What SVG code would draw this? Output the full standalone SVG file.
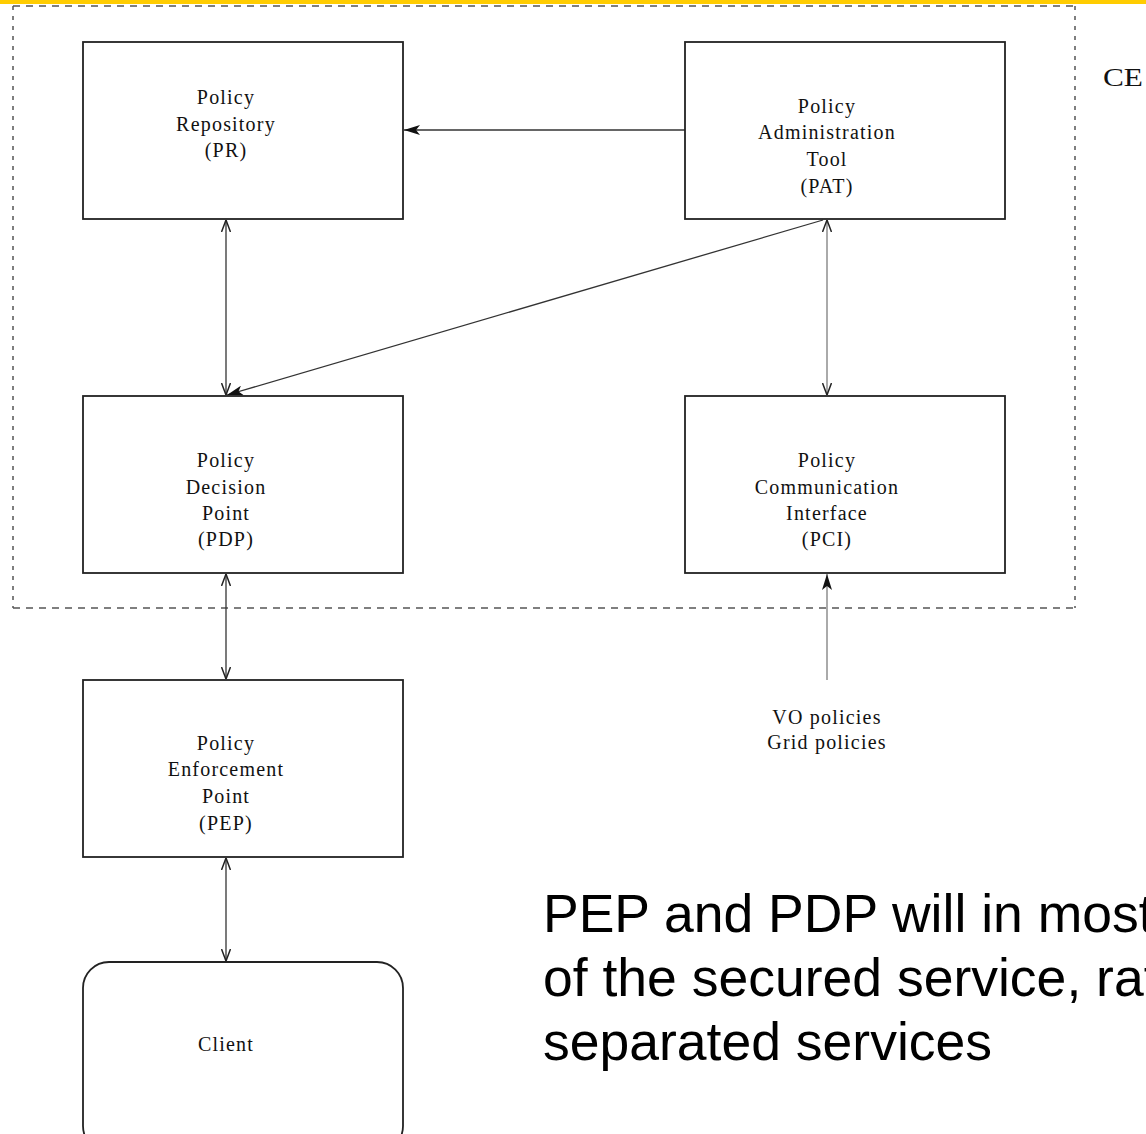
<svg xmlns="http://www.w3.org/2000/svg" width="1146" height="1134" viewBox="0 0 1146 1134">
  <style>
    .box { fill: #fff; stroke: #222; stroke-width: 1.8; }
    .lbl { font-family: "Liberation Serif", "Times New Roman", serif; font-size: 20px; fill: #111; text-anchor: middle; letter-spacing: 1.2px; }
    .link { stroke: #333; stroke-width: 1.3; fill: none; }
    .link-light { stroke: #aaa; stroke-width: 2; fill: none; }
    .frame { stroke: #555; stroke-width: 1.5; fill: none; }
    .note { font-family: "Liberation Sans", Arial, sans-serif; font-size: 53.5px; fill: #000; }
  </style>
  <defs>
    <marker id="solid" viewBox="0 0 16 10" refX="16" refY="5" markerWidth="16" markerHeight="10" markerUnits="userSpaceOnUse" orient="auto-start-reverse">
      <path d="M0,0 L16,5 L0,10 L4,5 Z" fill="#111"/>
    </marker>
    <marker id="open" viewBox="0 0 12 10" refX="12" refY="5" markerWidth="12" markerHeight="10" markerUnits="userSpaceOnUse" orient="auto-start-reverse">
      <path d="M0,0.5 L12,5 L0,9.5" fill="none" stroke="#222" stroke-width="1.5"/>
    </marker>
  </defs>

  <rect width="1146" height="1134" fill="#fff"/>
  <!-- top accent bar -->
  <rect x="0" y="0" width="1146" height="4" fill="#ffcc00"/>

  <!-- CE boundary -->
  <g id="ce-boundary">
    <path class="frame" d="M13,6 H1075 M13,608 H1075" stroke-dasharray="7,6"/>
    <path class="frame" d="M13,6 V608 M1075,6 V608" stroke-dasharray="4,6"/>
    <text x="1103" y="86" font-family="Liberation Serif, serif" font-size="25" fill="#111" textLength="40" lengthAdjust="spacingAndGlyphs">CE</text>
  </g>

  <!-- connectors -->
  <g id="connectors">
    <line class="link" x1="685" y1="130" x2="404" y2="130" marker-end="url(#solid)"/>
    <line class="link" x1="226" y1="220" x2="226" y2="395" marker-start="url(#open)" marker-end="url(#open)"/>
    <line class="link" x1="823" y1="220" x2="227" y2="395" marker-end="url(#solid)"/>
    <line class="link-light" x1="827" y1="220" x2="827" y2="395" marker-start="url(#open)" marker-end="url(#open)"/>
    <line class="link" x1="226" y1="574" x2="226" y2="679" marker-start="url(#open)" marker-end="url(#open)"/>
    <line class="link" x1="226" y1="858" x2="226" y2="961" marker-start="url(#open)" marker-end="url(#open)"/>
    <line class="link-light" x1="827" y1="680" x2="827" y2="574" marker-end="url(#solid)"/>
  </g>

  <g id="pr">
    <rect class="box" x="83" y="42" width="320" height="177"/>
    <text class="lbl" x="226" y="104">Policy</text>
    <text class="lbl" x="226" y="131">Repository</text>
    <text class="lbl" x="226" y="157">(PR)</text>
  </g>

  <g id="pat">
    <rect class="box" x="685" y="42" width="320" height="177"/>
    <text class="lbl" x="827" y="113">Policy</text>
    <text class="lbl" x="827" y="139">Administration</text>
    <text class="lbl" x="827" y="166">Tool</text>
    <text class="lbl" x="827" y="193">(PAT)</text>
  </g>

  <g id="pdp">
    <rect class="box" x="83" y="396" width="320" height="177"/>
    <text class="lbl" x="226" y="467">Policy</text>
    <text class="lbl" x="226" y="494">Decision</text>
    <text class="lbl" x="226" y="520">Point</text>
    <text class="lbl" x="226" y="546">(PDP)</text>
  </g>

  <g id="pci">
    <rect class="box" x="685" y="396" width="320" height="177"/>
    <text class="lbl" x="827" y="467">Policy</text>
    <text class="lbl" x="827" y="494">Communication</text>
    <text class="lbl" x="827" y="520">Interface</text>
    <text class="lbl" x="827" y="546">(PCI)</text>
  </g>

  <g id="pep">
    <rect class="box" x="83" y="680" width="320" height="177"/>
    <text class="lbl" x="226" y="750">Policy</text>
    <text class="lbl" x="226" y="776">Enforcement</text>
    <text class="lbl" x="226" y="803">Point</text>
    <text class="lbl" x="226" y="830">(PEP)</text>
  </g>

  <g id="client">
    <rect class="box" x="83" y="962" width="320" height="190" rx="26" ry="26"/>
    <text class="lbl" x="226" y="1051">Client</text>
  </g>

  <g id="policy-sources">
    <text class="lbl" x="827" y="724">VO policies</text>
    <text class="lbl" x="827" y="749">Grid policies</text>
  </g>

  <g id="note">
    <text class="note" x="543" y="932">PEP and PDP will in most</text>
    <text class="note" x="543" y="996">of the secured service, rat</text>
    <text class="note" x="543" y="1060">separated services</text>
  </g>
</svg>
